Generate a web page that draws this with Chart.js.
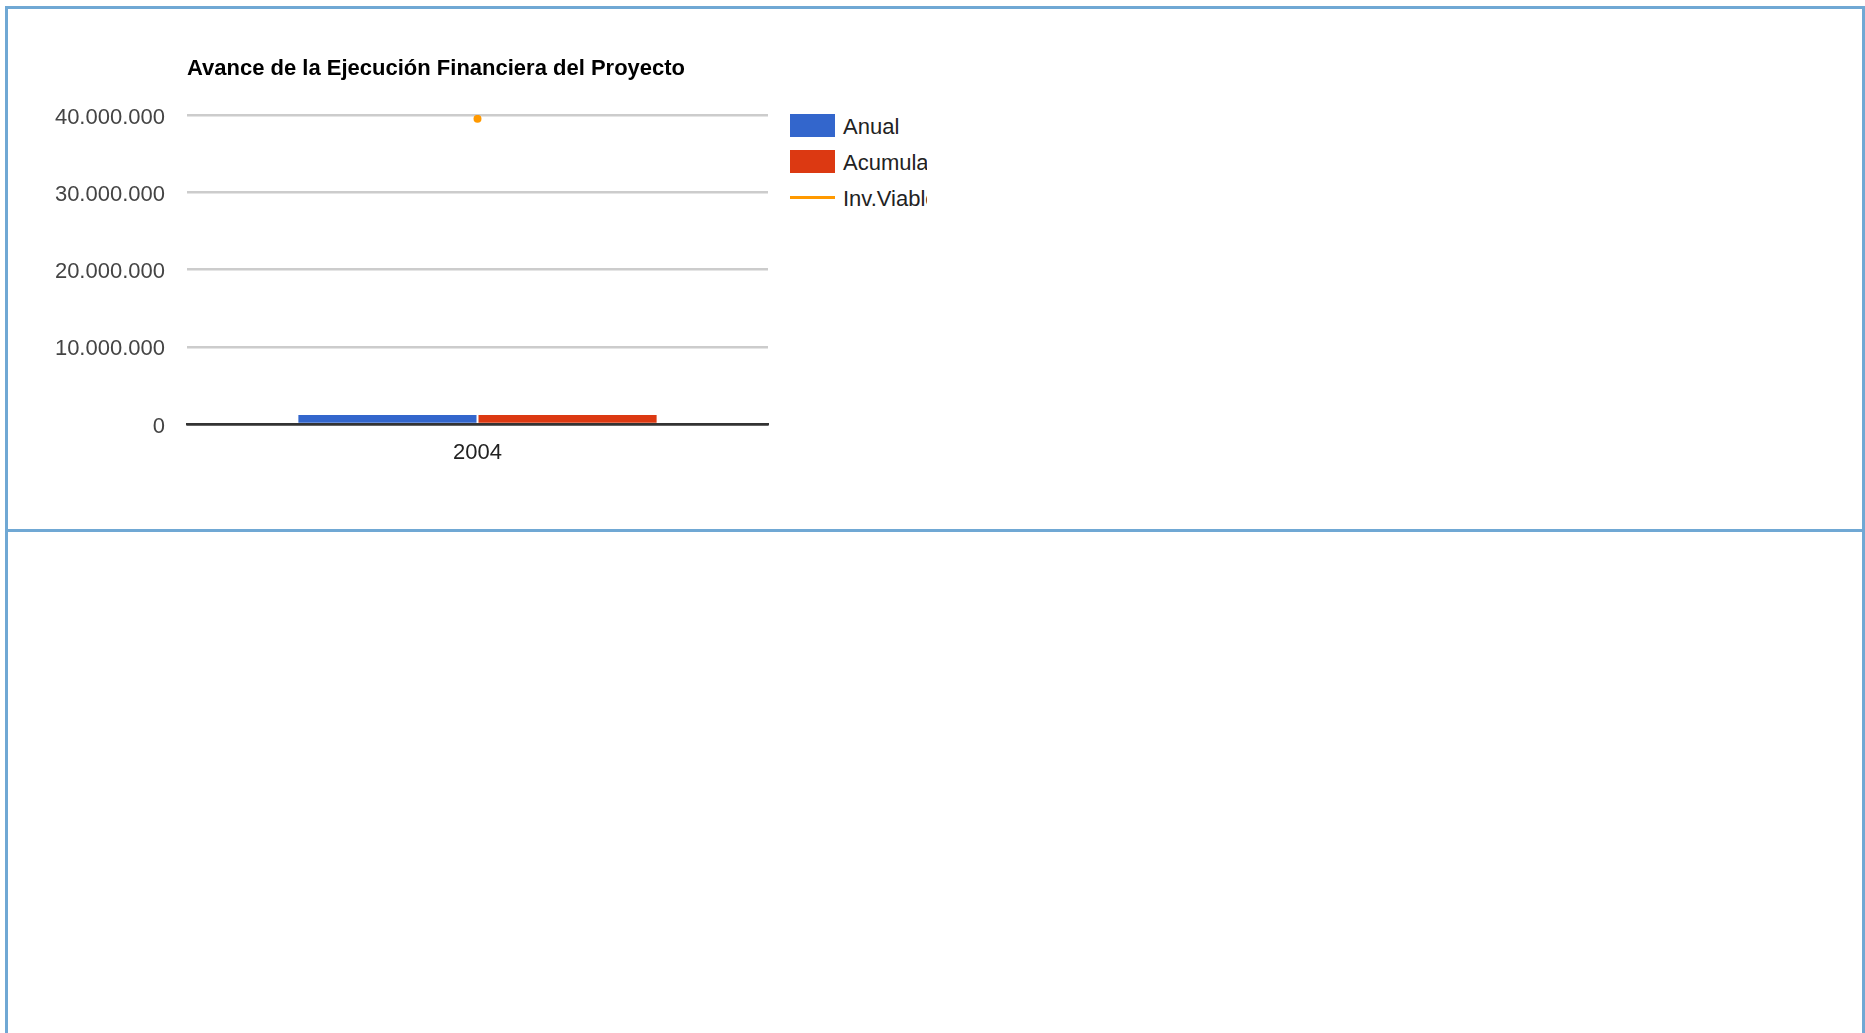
<!DOCTYPE html>
<html>
<head>
<meta charset="utf-8">
<script src="https://cdn.jsdelivr.net/npm/chart.js@4/dist/chart.umd.min.js"></script>
<style>
  body { margin: 0; background: #fff; font-family: "Liberation Sans", Arial, sans-serif; }
  .frame { position: absolute; left: 5px; top: 6px; width: 1860px; height: 1100px; box-sizing: border-box; border: 3px solid #70a8d4; }
  .divider { position: absolute; left: 5px; top: 529px; width: 1860px; height: 3px; background: #70a8d4; }
  #wrap { position: absolute; left: 0; top: 0; width: 780px; height: 520px; }
  #legend { position: absolute; left: 790px; top: 114px; width: 137px; overflow: hidden; white-space: nowrap; }
  .item { position: relative; height: 23px; margin-bottom: 13px; }
  .sw { position: absolute; left: 0; width: 45px; }
  .txt { position: absolute; left: 53px; top: 1px; line-height: 23px; font-size: 22px; color: #222; }
</style>
</head>
<body>
<div class="frame"></div>
<div class="divider"></div>
<div id="wrap"><canvas id="myChart"></canvas></div>
<div id="legend"></div>
<script>
const years = ["2004"];
const seriesNames = ["Anual", "Acumulado", "Inv.Viable"];
const anual = [1150000];
const acumulado = [1150000];
const invViable = [39500000];
const yTicks = [0, 10000000, 20000000, 30000000, 40000000];
const chartTitle = "Avance de la Ejecución Financiera del Proyecto";

const FONT = "'Liberation Sans', Arial, sans-serif";

// miles con punto: 40.000.000
function fmt(v) {
  return String(v).replace(/\B(?=(\d{3})+(?!\d))/g, ".");
}

// title drawn at the left edge of the plot area
const titlePlugin = {
  id: "leftTitle",
  afterDraw(chart) {
    const ctx = chart.ctx;
    ctx.save();
    ctx.font = "bold 22px " + FONT;
    ctx.fillStyle = "#000";
    ctx.textBaseline = "alphabetic";
    ctx.textAlign = "left";
    ctx.fillText(chartTitle, chart.chartArea.left, 75);
    ctx.restore();
  },
};

const myChart = document.querySelector("#myChart");
let chart = new Chart(myChart, {
  type: "bar",
  data: {
    labels: years,
    datasets: [
      {
        label: seriesNames[0],
        data: anual,
        backgroundColor: "#3366cc",
        borderWidth: 0,
        order: 2,
      },
      {
        label: seriesNames[1],
        data: acumulado,
        backgroundColor: "#dc3912",
        borderWidth: 0,
        order: 2,
      },
      {
        type: "line",
        label: seriesNames[2],
        data: invViable,
        borderColor: "#ff9900",
        backgroundColor: "#ff9900",
        borderWidth: 3,
        pointRadius: 4,
        pointBorderWidth: 0,
        order: 1,
      },
    ],
  },
  options: {
    responsive: true,
    maintainAspectRatio: false,
    animation: false,
    categoryPercentage: 0.62,
    barPercentage: 0.989,
    layout: { padding: { top: 115, left: 0, right: 12, bottom: 36 } },
    plugins: {
      legend: { display: false },
      title: { display: false },
      tooltip: { enabled: false },
    },
    scales: {
      x: {
        z: 1,
        grid: { display: false, drawTicks: false },
        border: { display: true, color: "#333", width: 2.5, z: 1 },
        ticks: { color: "#222", padding: 15.5, font: { family: FONT, size: 22 } },
        afterFit: (scale) => { scale.height = 60; },
      },
      y: {
        min: 0,
        max: 40000000,
        afterBuildTicks: (scale) => { scale.ticks = yTicks.map((v) => ({ value: v })); },
        grid: {
          drawTicks: false,
          lineWidth: 2.5,
          color: (c) => (c.tick && c.tick.value === 0 ? "#333" : "#cccccc"),
        },
        border: { display: false },
        ticks: {
          color: "#444",
          padding: 22,
          labelOffset: 2.5,
          font: { family: FONT, size: 22 },
          callback: (v) => fmt(v),
        },
        afterFit: (scale) => { scale.width = 187; },
      },
    },
  },
  plugins: [titlePlugin],
});

// legend built from the chart's datasets
const legendBox = document.querySelector("#legend");
chart.data.datasets.forEach((ds) => {
  const item = document.createElement("div");
  item.className = "item";
  const sw = document.createElement("div");
  sw.className = "sw";
  if (ds.type === "line") {
    sw.style.top = "10px";
    sw.style.height = "3px";
    sw.style.background = ds.borderColor;
  } else {
    sw.style.top = "0px";
    sw.style.height = "23px";
    sw.style.background = ds.backgroundColor;
  }
  const txt = document.createElement("div");
  txt.className = "txt";
  txt.textContent = ds.label;
  item.appendChild(sw);
  item.appendChild(txt);
  legendBox.appendChild(item);
});
</script>
</body>
</html>
